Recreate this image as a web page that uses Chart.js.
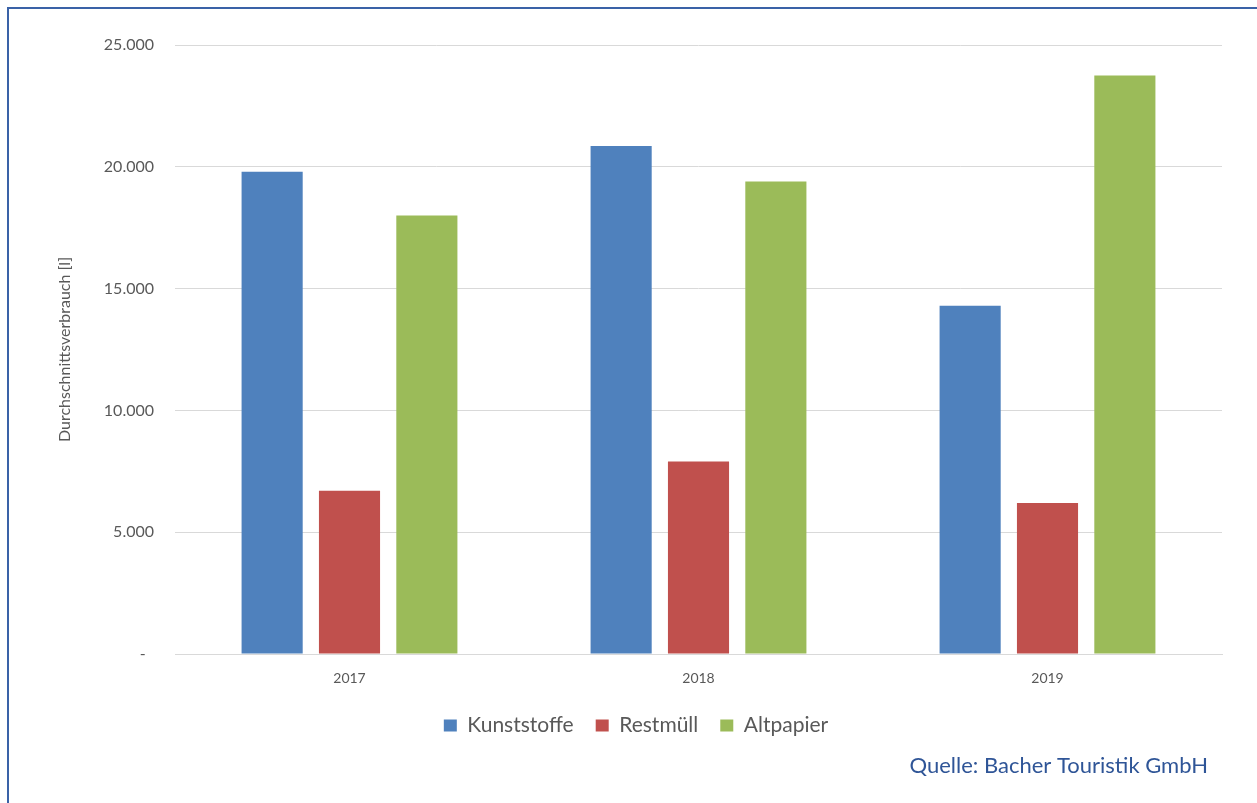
<!DOCTYPE html>
<html lang="de">
<head>
<meta charset="utf-8">
<title>Durchschnittsverbrauch</title>
<script src="https://cdn.jsdelivr.net/npm/chart.js@4/dist/chart.umd.min.js"></script>
<style>
  html, body { margin: 0; padding: 0; background: #fff; overflow: hidden; }
  #wrap { position: relative; width: 1257px; height: 803px; }
  #frame {
    position: absolute; left: 7px; top: 7px; width: 1300px; height: 900px;
    border: 2px solid #3A62A7; box-sizing: border-box; pointer-events: none;
  }
  canvas { position: absolute; left: 0; top: 0; }
</style>
</head>
<body>
<div id="wrap">
  <canvas id="chart" width="1257" height="803"></canvas>
  <div id="frame"></div>
</div>
<script>
// Jahre (Kategorien)
const years = ['2017', '2018', '2019'];

// Durchschnittsverbrauch in Litern je Abfallart
const kunststoffe = [19800, 20850, 14300];
const restmuell   = [6700, 7900, 6200];
const altpapier   = [18000, 19400, 23750];

const seriesNames = ['Kunststoffe', 'Restmüll', 'Altpapier'];
const yTicks = [0, 5000, 10000, 15000, 20000, 25000];
const axisTitle = 'Durchschnittsverbrauch [l]';
const sourceText = 'Quelle: Bacher Touristik GmbH';

const FONT = 'Lato, "Liberation Sans", sans-serif';
const GREY = '#595959';

function formatDe(v) {
  if (v === 0) return '-  ';
  return String(v).replace(/\B(?=(\d{3})+(?!\d))/g, '.');
}

// Quellenangabe rechts unten
const sourcePlugin = {
  id: 'sourceNote',
  afterDraw(chart) {
    const ctx = chart.ctx;
    ctx.save();
    ctx.font = '22px ' + FONT;
    ctx.fillStyle = '#2F5597';
    ctx.textAlign = 'right';
    ctx.textBaseline = 'middle';
    ctx.fillText(sourceText, chart.chartArea.right - 14, 766);
    ctx.restore();
  }
};

const barStyle = { barPercentage: 0.79, categoryPercentage: 0.665, borderWidth: 0 };

new Chart(document.getElementById('chart'), {
  type: 'bar',
  data: {
    labels: years,
    datasets: [
      Object.assign({ label: seriesNames[0], data: kunststoffe, backgroundColor: '#4F81BD' }, barStyle),
      Object.assign({ label: seriesNames[1], data: restmuell,   backgroundColor: '#C0504D' }, barStyle),
      Object.assign({ label: seriesNames[2], data: altpapier,   backgroundColor: '#9BBB59' }, barStyle)
    ]
  },
  options: {
    responsive: false,
    animation: false,
    devicePixelRatio: 1,
    layout: { padding: { left: 50, right: 35, top: 45, bottom: 57 } },
    plugins: {
      tooltip: { enabled: false },
      legend: {
        position: 'bottom',
        labels: {
          font: { family: FONT, size: 21 },
          color: GREY,
          boxWidth: 13,
          boxHeight: 12,
          padding: 22
        }
      }
    },
    scales: {
      x: {
        afterFit(scale) { scale.height = 39; },
        grid: { display: false, drawTicks: false },
        border: { color: '#D9D9D9', width: 1 },
        ticks: { font: { family: FONT, size: 14 }, color: GREY, padding: 16 }
      },
      y: {
        min: 0,
        max: 25000,
        afterFit(scale) { scale.width = 125; },
        afterBuildTicks(scale) { scale.ticks = yTicks.map(v => ({ value: v })); },
        grid: { color: '#D9D9D9', lineWidth: 1, drawTicks: false },
        border: { display: false },
        ticks: {
          font: { family: FONT, size: 16 },
          color: GREY,
          padding: 21,
          callback: v => formatDe(v)
        },
        title: {
          display: true,
          text: axisTitle,
          font: { family: FONT, size: 16 },
          color: GREY,
          padding: { top: 5, bottom: 0 }
        }
      }
    }
  },
  plugins: [sourcePlugin]
});
</script>
</body>
</html>
